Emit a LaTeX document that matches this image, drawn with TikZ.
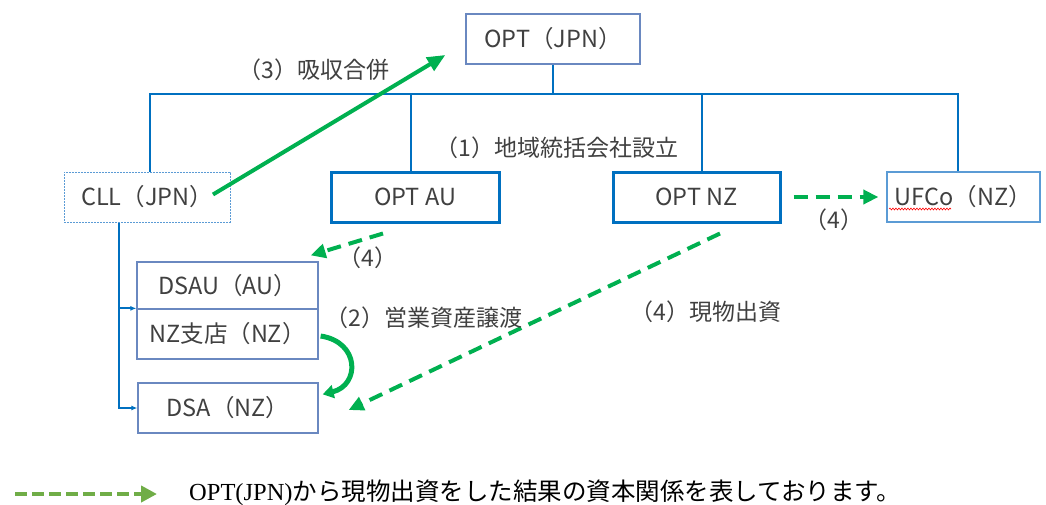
\documentclass[tikz,border=0pt]{standalone}
\usepackage{fontspec}
\setmainfont{Noto Sans CJK JP}
\newfontfamily\jpfont{Noto Sans CJK JP}
\newfontfamily\lsrfont{Liberation Serif}
\usetikzlibrary{arrows.meta,decorations.pathmorphing}
\definecolor{txt}{HTML}{404040}
\definecolor{blu}{HTML}{0070C0}
\definecolor{thinb}{HTML}{6A88C0}
\definecolor{lightb}{HTML}{5B9BD5}
\definecolor{grn}{HTML}{00B050}
\definecolor{lgrn}{HTML}{70AD47}
\tikzset{
  box/.style={draw=thinb, line width=1.3pt, minimum height=50pt, inner sep=0pt, text=txt, font=\fontsize{23.5}{27}\selectfont},
  thickbox/.style={box, draw=blu, line width=3pt},
  lbl/.style={inner sep=0pt, text=txt, font=\fontsize{23}{27}\selectfont},
  bus/.style={draw=blu, line width=2pt},
  dgreen/.style={draw=grn, line width=4pt, dash pattern=on 14pt off 8pt, -{Triangle[length=15pt,width=14pt]}},
  sgreen/.style={draw=grn, line width=4pt, -{Triangle[length=18pt,width=15pt]}},
}
\begin{document}
\begin{tikzpicture}[x=1pt,y=-1pt]
\useasboundingbox (0,0) rectangle (1046,504);
% boxes
\node[box, minimum width=174pt] (optjpn) at (553,39) {OPT（JPN）};
\node[box, minimum width=166pt, draw=lightb, line width=1pt, dash pattern=on 1.6pt off 1.4pt] (cll) at (147,197) {CLL（JPN）};
\node[thickbox, minimum width=168pt] (optau) at (415,197) {OPT AU};
\node[thickbox, minimum width=167pt] (optnz) at (696.5,197) {OPT NZ};
\node[box, minimum width=153pt, draw=lightb] (ufco) at (963.5,197) {UFCo（NZ）};
\node[box, minimum width=181pt, minimum height=47pt] (dsau) at (227.5,285.5) {DSAU（AU）};
\node[box, minimum width=181pt] (nzbr) at (227.5,334) {NZ支店（NZ）};
\node[box, minimum width=180pt] (dsa) at (228,408) {DSA（NZ）};
% spell-check underline
\draw[red, line width=0.6pt, decorate, decoration={snake, amplitude=0.9pt, segment length=3pt}] (889,209) -- (951,209);
% bus
\coordinate (bus) at (553,94);
\draw[bus] (optjpn.south) -- (bus);
\draw[bus] ([xshift=3pt]cll.north) |- (bus) -| ([xshift=-5.5pt]ufco.north);
\draw[bus] ([xshift=-4pt]optau.north) -- ([xshift=-4pt]optau.north |- bus);
\draw[bus] ([xshift=5.5pt]optnz.north) -- ([xshift=5.5pt]optnz.north |- bus);
% CLL subsidiaries
\draw[bus, -{Latex[length=6pt,width=5pt]}] ([xshift=-28pt]cll.south) |- (dsa.west);
\draw[bus, -{Latex[length=6pt,width=5pt]}] ([xshift=-28pt]cll.south |- nzbr.north west) -- (nzbr.north west);
% green arrows
\draw[sgreen] ([xshift=66pt,yshift=-23pt]cll.north) -- ([xshift=-20pt,yshift=-16pt]optjpn.west);
\draw[draw=grn, line width=5pt, -{Triangle[length=11pt,width=13pt]}] ([xshift=2pt,yshift=-2pt]nzbr.east) .. controls (360,342) and (360,385) .. ([xshift=4pt,yshift=-12pt]dsa.north east);
\draw[dgreen] ([xshift=23.5pt,yshift=-10pt]optnz.south) -- ([xshift=30pt,yshift=-2pt]dsa.east);
\draw[dgreen] ([xshift=-32pt,yshift=-10pt]optau.south) -- ([xshift=-8pt,yshift=6pt]dsau.north east);
\draw[dgreen] ([xshift=12pt]optnz.east) -- ([xshift=-8pt]ufco.west);
% labels
\node[lbl] (l3) at (314,70) {（3）吸収合併};
\node[lbl] (l1) at (557,148) {（1）地域統括会社設立};
\node[lbl] (l4a) at (368,258) {（4）};
\node[lbl] (l2) at (424,318) {（2）営業資産譲渡};
\node[lbl] (l4b) at (706,312) {（4）現物出資};
\node[lbl] (l4c) at (834,220) {（4）};
% legend
\coordinate (la) at (15,494);
\coordinate (lb) at (157,494);
\draw[draw=lgrn, line width=4.5pt, dash pattern=on 12pt off 5pt, -{Triangle[length=16pt,width=16pt]}] (la) -- (lb);
\node[inner sep=0pt, anchor=west, text=black, font=\fontsize{24.5}{28}\selectfont] (leg) at (189,493) {{\lsrfont OPT(JPN)}から現物出資をした結果の資本関係を表しております。};
\end{tikzpicture}
\end{document}
